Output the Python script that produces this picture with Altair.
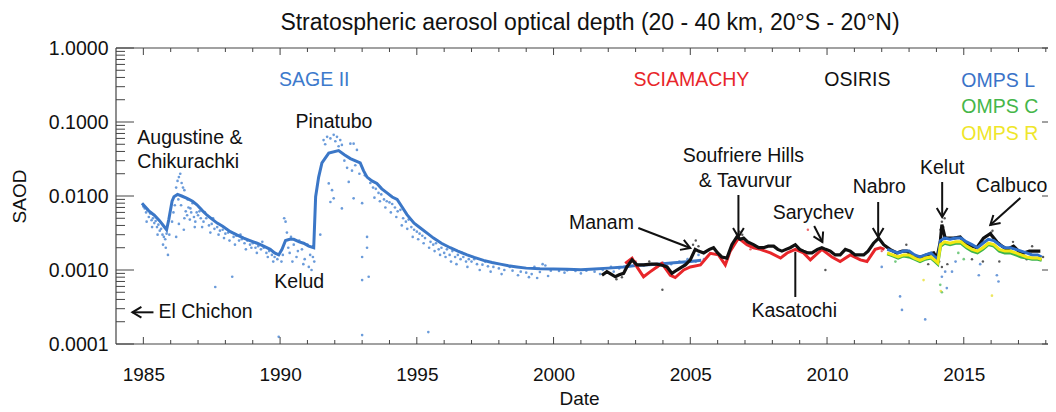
import altair as alt
import pandas as pd

# ---------------- data ----------------
chart_title = "Stratospheric aerosol optical depth (20 - 40 km, 20°S - 20°N)"

sage_line = [(1984.95,0.0080),(1985.2,0.0063),(1985.4,0.0055),(1985.6,0.0046),(1985.75,0.0039),
    (1985.85,0.0035),(1985.93,0.0048),(1986.05,0.0085),(1986.12,0.0098),(1986.25,0.0105),
    (1986.4,0.0100),(1986.6,0.0093),(1986.8,0.0085),(1986.96,0.0076),(1987.15,0.0064),
    (1987.33,0.0055),(1987.5,0.0049),(1987.7,0.0043),(1987.9,0.0039),(1988.18,0.0033),
    (1988.4,0.0030),(1988.67,0.0027),(1988.9,0.0025),(1989.16,0.0023),(1989.4,0.0021),
    (1989.64,0.0019),(1989.8,0.0017),(1989.95,0.0016),(1990.07,0.0019),(1990.2,0.0025),
    (1990.35,0.0026),(1990.5,0.0026),(1990.7,0.0024),(1990.86,0.0023),(1991.05,0.0021),
    (1991.23,0.0020),(1991.3,0.0098),(1991.41,0.018),(1991.53,0.028),(1991.78,0.038),
    (1992.14,0.041),(1992.35,0.036),(1992.57,0.032),(1992.93,0.028),(1993.05,0.022),
    (1993.18,0.018),(1993.36,0.016),(1993.54,0.0148),(1993.72,0.0125),(1993.91,0.011),
    (1994.1,0.0097),(1994.28,0.0090),(1994.45,0.0072),(1994.64,0.0056),(1994.9,0.0043),
    (1995.13,0.0037),(1995.4,0.0031),(1995.61,0.0027),(1995.9,0.0023),(1996.22,0.0020),
    (1996.5,0.0018),(1996.84,0.0016),(1997.1,0.00148),(1997.44,0.00135),(1997.75,0.00126),
    (1998.05,0.0012),(1998.35,0.00114),(1998.66,0.0011),(1999.0,0.00106),(1999.5,0.00104),
    (2000.0,0.00103),(2000.5,0.00102),(2001.0,0.00101),(2001.5,0.00103),(2002.0,0.00106),
    (2002.55,0.0011),(2003.0,0.00115),(2003.78,0.0012),(2004.4,0.00125),(2005.0,0.0013),
    (2005.4,0.00135)]

sage_dots = [(1985.0,0.0072),(1985.05,0.0068),(1985.1,0.0060),(1985.15,0.0065),(1985.2,0.0052),
    (1985.25,0.0058),(1985.3,0.0047),(1985.35,0.0050),(1985.4,0.0043),(1985.45,0.0046),
    (1985.5,0.0038),(1985.55,0.0041),(1985.6,0.0034),(1985.65,0.0036),(1985.7,0.0030),
    (1985.75,0.0028),(1985.8,0.0026),(1985.85,0.0031),(1985.9,0.0016),(1985.95,0.0030),
    (1986.1,0.0060),(1986.15,0.0075),(1986.2,0.013),(1986.25,0.016),(1986.3,0.018),
    (1986.35,0.020),(1986.4,0.015),(1986.45,0.013),(1986.5,0.012),(1986.55,0.0062),
    (1986.6,0.0055),(1986.65,0.0070),(1986.7,0.0048),(1986.75,0.0060),(1986.8,0.0080),
    (1986.85,0.0052),(1986.9,0.0045),(1986.95,0.0060),(1986.3,0.0042),(1986.5,0.0050),
    (1986.2,0.0028),(1987.05,0.0062),(1987.1,0.0050),(1987.2,0.0045),(1987.3,0.0050),
    (1987.4,0.0040),(1987.5,0.0042),(1987.6,0.0036),(1987.63,0.00059),(1987.7,0.0038),
    (1987.8,0.0034),(1987.9,0.0035),(1988.0,0.0031),(1988.1,0.0032),(1988.25,0.00081),
    (1988.3,0.0028),(1988.4,0.0029),(1988.5,0.0025),(1988.6,0.0026),(1988.7,0.0023),
    (1988.8,0.0025),(1988.9,0.0022),(1989.0,0.0023),(1989.1,0.0020),(1989.2,0.0021),
    (1989.3,0.0019),(1989.4,0.0020),(1989.5,0.0017),(1989.6,0.0018),(1989.7,0.0016),
    (1989.8,0.0015),(1989.9,0.0014),(1989.95,0.000125),(1990.05,0.0013),(1990.1,0.0016),
    (1990.15,0.0050),(1990.2,0.0045),(1990.25,0.0032),(1990.3,0.0020),(1990.35,0.0017),
    (1990.4,0.0028),(1990.5,0.0022),(1990.6,0.0015),(1990.7,0.0025),(1990.8,0.0019),
    (1990.9,0.0014),(1991.0,0.0022),(1991.1,0.0016),(1991.15,0.0010),(1991.2,0.0015),
    (1991.25,0.0013),(1991.47,0.0030),(1991.59,0.057),(1991.65,0.050),(1991.72,0.063),
    (1991.78,0.0148),(1991.84,0.060),(1991.84,0.0083),(1991.9,0.012),(1991.96,0.067),
    (1991.96,0.0093),(1992.02,0.055),(1992.08,0.063),(1992.14,0.047),(1992.2,0.057),
    (1992.26,0.049),(1992.26,0.0068),(1992.35,0.030),(1992.45,0.024),(1992.51,0.0155),
    (1992.57,0.051),(1992.63,0.022),(1992.69,0.051),(1992.69,0.0093),(1992.75,0.026),
    (1992.81,0.042),(1992.9,0.020),(1993.0,0.008),(1993.0,0.0015),(1993.0,0.00073),
    (1993.0,0.000132),(1993.1,0.019),(1993.18,0.0028),(1993.18,0.0020),(1993.24,0.00081),
    (1993.3,0.015),(1993.4,0.013),(1993.5,0.0125),(1993.6,0.011),(1993.7,0.0105),
    (1993.8,0.0090),(1993.9,0.0085),(1994.0,0.0082),(1994.1,0.0078),(1994.2,0.0070),
    (1994.3,0.0062),(1994.4,0.0065),(1994.5,0.0050),(1994.6,0.0045),(1994.7,0.0048),
    (1994.8,0.0038),(1994.9,0.0035),(1995.0,0.0033),(1995.1,0.0031),(1995.2,0.0029),
    (1995.3,0.0027),(1995.42,0.000145),(1995.5,0.0024),(1995.6,0.0022),(1995.7,0.0023),
    (1995.8,0.0019),(1995.9,0.0020),(1996.0,0.0017),(1996.1,0.0019),(1996.2,0.0016),
    (1996.3,0.0018),(1996.4,0.0015),(1996.5,0.0016),(1996.6,0.0014),(1996.7,0.0015),
    (1996.8,0.0013),(1996.9,0.0014),(1997.0,0.0013),(1997.2,0.0012),(1997.4,0.00118),
    (1997.6,0.00112),(1997.8,0.0011),(1998.0,0.00105),(1998.2,0.0010),(1998.5,0.00098),
    (1998.8,0.00095),(1999.0,0.00092),(1999.2,0.00088),(1999.3,0.0011),(1999.5,0.00094),
    (1999.7,0.00115),(1999.9,0.00098),(2000.2,0.00097),(2000.5,0.00099),(2000.8,0.00097),
    (2001.2,0.00098),(2001.5,0.00095),(2001.8,0.0010),(2002.1,0.0011),(2002.4,0.00105),
    (2002.7,0.0011),(2003.0,0.0012),(2003.3,0.00115),(2003.6,0.0012),(2004.0,0.00125),
    (2004.3,0.0012),(2004.6,0.0013),(2004.9,0.0014),(2005.2,0.0013),(2005.5,0.0014),
    (1985.12,0.0045),(1985.32,0.0038),(1985.52,0.0030),(1985.72,0.0022),(1985.82,0.0020),
    (1986.05,0.0045),(1986.28,0.0090),(1986.38,0.0075),(1986.48,0.0035),(1986.62,0.0090),
    (1986.72,0.0068),(1986.88,0.0038),(1987.0,0.0055),(1987.15,0.0038),(1987.25,0.0060),
    (1987.45,0.0032),(1987.55,0.0050),(1987.75,0.0030),(1987.95,0.0027),(1988.15,0.0025),
    (1988.35,0.0022),(1988.55,0.0030),(1988.75,0.0019),(1988.95,0.0020),(1989.15,0.0017),
    (1989.35,0.0024),(1989.55,0.0015),(1989.75,0.0013),(1990.45,0.0013),(1990.65,0.0018),
    (1990.85,0.0012),(1991.05,0.0011),(1993.45,0.0095),(1993.65,0.0085),(1993.85,0.0070),
    (1994.05,0.0060),(1994.25,0.0052),(1994.45,0.0040),(1994.65,0.0036),(1994.85,0.0028),
    (1995.05,0.0026),(1995.25,0.0023),(1995.45,0.0020),(1995.65,0.0018),(1995.85,0.0016),
    (1996.05,0.0015),(1996.25,0.0013),(1996.45,0.0012),(1996.65,0.0017),(1996.85,0.0011),
    (1997.1,0.0014),(1997.3,0.0010),(1997.5,0.0013),(1997.7,0.00095),(1998.1,0.00088),
    (1998.4,0.0011),(1998.7,0.00085),(1999.1,0.0008),(1999.4,0.00078),(1999.6,0.0012),
    (1999.8,0.00083),(2000.4,0.00092),(2001.0,0.0009),(2001.7,0.00088),(2002.2,0.00095),
    (2003.8,0.0011),(2004.8,0.0012),(2005.3,0.0016)]

sciamachy_line = [(2002.62,0.00123),(2002.87,0.00144),(2003.05,0.0011),(2003.29,0.00081),
    (2003.54,0.00095),(2003.78,0.0011),(2003.96,0.00123),(2004.27,0.00085),(2004.45,0.00079),
    (2004.76,0.0010),(2005.0,0.0011),(2005.37,0.00117),(2005.73,0.00168),(2006.03,0.0016),
    (2006.28,0.00117),(2006.46,0.0018),(2006.76,0.0027),(2007.07,0.0022),(2007.31,0.0020),
    (2007.56,0.0019),(2007.93,0.0017),(2008.3,0.00145),(2008.54,0.0017),(2008.84,0.0019),
    (2009.14,0.0017),(2009.39,0.00137),(2009.81,0.0019),(2010.18,0.0015),(2010.48,0.0013),
    (2010.85,0.0016),(2011.22,0.00137),(2011.46,0.0013),(2011.76,0.0019),(2011.95,0.0020),
    (2012.1,0.0019)]
sciamachy_dots = [(2009.3,0.0035),(2006.8,0.0030),(2003.0,0.0013),(2012.0,0.0018),(2007.2,0.0019)]

osiris_line = [(2001.77,0.00085),(2001.95,0.00095),(2002.1,0.00088),(2002.26,0.00081),
    (2002.4,0.00086),(2002.56,0.0009),(2002.68,0.0011),(2002.87,0.00137),(2003.05,0.00117),
    (2003.3,0.00117),(2003.55,0.0012),(2003.78,0.0012),(2004.0,0.00115),(2004.15,0.0011),
    (2004.33,0.0009),(2004.51,0.0010),(2004.7,0.0011),(2004.82,0.00117),(2005.0,0.00137),
    (2005.18,0.0019),(2005.3,0.0018),(2005.49,0.0017),(2005.7,0.0019),(2005.85,0.0020),
    (2006.0,0.0017),(2006.15,0.0015),(2006.34,0.00145),(2006.52,0.0022),(2006.7,0.0028),
    (2006.83,0.0026),(2006.95,0.0027),(2007.1,0.0024),(2007.31,0.0022),(2007.5,0.0020),
    (2007.68,0.0020),(2007.85,0.0021),(2008.05,0.0021),(2008.2,0.0019),(2008.35,0.0018),
    (2008.5,0.0019),(2008.65,0.0020),(2008.84,0.0022),(2009.0,0.0019),(2009.14,0.0018),
    (2009.3,0.0017),(2009.45,0.0017),(2009.65,0.0019),(2009.81,0.0020),(2009.95,0.0019),
    (2010.12,0.0018),(2010.3,0.0016),(2010.48,0.0016),(2010.67,0.0019),(2010.85,0.0018),
    (2011.03,0.0016),(2011.2,0.0016),(2011.34,0.0016),(2011.5,0.0018),(2011.7,0.0023),
    (2011.89,0.0027),(2012.07,0.0022),(2012.3,0.0019),(2012.55,0.0017),(2012.75,0.0018),
    (2012.92,0.0018),(2013.1,0.0016),(2013.28,0.0015),(2013.45,0.0015),(2013.65,0.0016),
    (2013.9,0.0017),(2014.02,0.00145),(2014.14,0.0024),(2014.2,0.0041),(2014.32,0.0027),
    (2014.5,0.0027),(2014.63,0.0027),(2014.87,0.0028),(2015.12,0.0022),(2015.3,0.0021),
    (2015.48,0.0020),(2015.72,0.0027),(2015.97,0.0031),(2016.21,0.0024),(2016.4,0.0021),
    (2016.58,0.0019),(2016.82,0.0021),(2017.0,0.0018),(2017.19,0.0017),(2017.4,0.0018),
    (2017.55,0.0018),(2017.8,0.0018)]
osiris_dots = [(2002.3,0.00075),(2002.5,0.0008),(2003.5,0.0013),(2003.98,0.00054),(2005.1,0.0022),
    (2005.2,0.0025),(2005.3,0.0021),(2006.7,0.0031),(2006.8,0.0033),(2006.9,0.0030),
    (2009.94,0.0010),(2011.9,0.0030),(2014.15,0.0035),(2014.2,0.0045),(2014.25,0.0038),
    (2014.3,0.0050),(2014.1,0.0013),(2014.2,0.0011),(2013.7,0.0012),(2015.3,0.0014),
    (2015.7,0.0013),(2016.0,0.0032),(2016.05,0.0034),(2016.8,0.0024),(2017.3,0.0014),
    (2017.5,0.0021),(2017.9,0.0015),(2014.4,0.0012),(2012.9,0.0022),(2016.3,0.0013)]

omps_years = [2012.2,2012.4,2012.6,2012.8,2013.0,2013.2,2013.4,2013.6,2013.8,2013.95,2014.05,
    2014.15,2014.3,2014.5,2014.7,2014.9,2015.1,2015.3,2015.5,2015.7,2015.9,2016.1,2016.3,
    2016.5,2016.7,2016.9,2017.1,2017.3,2017.5,2017.7,2017.85]
omps_l = [0.0019,0.0018,0.0017,0.0018,0.0018,0.0016,0.0015,0.0016,0.0017,0.0015,0.0014,0.0025,
    0.0027,0.0026,0.0027,0.0027,0.0024,0.0022,0.0020,0.0023,0.0026,0.0025,0.0022,0.0020,0.0020,
    0.0019,0.0018,0.0017,0.0016,0.0016,0.0015]
omps_r = [0.0017,0.0016,0.0015,0.0016,0.0016,0.00145,0.00135,0.00145,0.0015,0.00135,0.00125,
    0.0022,0.0024,0.0023,0.0024,0.0024,0.0021,0.0019,0.0018,0.0020,0.0023,0.0022,0.0019,0.0018,
    0.0018,0.0017,0.0016,0.0015,0.00145,0.00145,0.0014]
omps_c = [0.00165,0.00155,0.00145,0.00155,0.0015,0.0014,0.0013,0.0014,0.00145,0.0013,0.0012,
    0.0021,0.0023,0.0022,0.0023,0.0023,0.0020,0.0018,0.0017,0.0019,0.0022,0.0021,0.0018,0.0017,
    0.0017,0.0016,0.0015,0.00145,0.0014,0.0014,0.00135]
omps_l_dots = [(2012.0,0.0011),(2012.67,0.00044),(2012.74,0.000289),(2013.59,0.000215),
    (2014.2,0.00081),(2014.32,0.00095),(2014.57,0.00095),(2014.38,0.00057),(2015.55,0.00085),
    (2016.21,0.00085),(2016.27,0.00070),(2015.6,0.0012),(2014.7,0.0013)]
omps_c_dots = [(2014.14,0.00063),(2014.2,0.0005),(2015.0,0.0014),(2014.8,0.0017),(2012.5,0.0013)]
omps_r_dots = [(2014.16,0.00052),(2013.53,0.00073),(2016.03,0.00045)]

# annotations: label, year, SAOD, colour
labels_center = [("SAGE II",1991.25,0.369,"#3d7acc"),("SCIAMACHY",2005.04,0.369,"#e8262a"),
    ("OSIRIS",2011.11,0.369,"#111111"),("Pinatubo",1991.97,0.100,"#111111"),
    ("Kelud",1990.70,0.000689,"#111111"),("Manam",2001.75,0.00432,"#111111"),
    ("Soufriere Hills",2006.94,0.0347,"#111111"),("& Tavurvur",2007.01,0.0160,"#111111"),
    ("Sarychev",2009.50,0.00589,"#111111"),("Nabro",2011.91,0.01324,"#111111"),
    ("Kelut",2014.21,0.0239,"#111111"),("Calbuco",2016.75,0.01365,"#111111"),
    ("Kasatochi",2008.80,0.000279,"#111111")]
labels_left = [("Augustine &",1984.78,0.0608,"#111111"),("Chikurachki",1984.78,0.0288,"#111111"),
    ("El Chichon",1985.55,0.000268,"#111111"),("OMPS L",2014.91,0.358,"#3a73c8"),
    ("OMPS C",2014.91,0.1595,"#45b649"),("OMPS R",2014.91,0.0688,"#efe62a")]

# arrows: name, start year, start SAOD, tip year, tip SAOD
arrows = [("Manam",2003.10,0.00370,2005.0,0.00198),("Soufriere",2006.76,0.01032,2006.76,0.00279),
    ("Sarychev",2009.53,0.00393,2009.83,0.00239),("Nabro",2011.87,0.0083,2011.87,0.00279),
    ("Kelut",2014.21,0.01545,2014.21,0.0052),("Calbuco",2017.07,0.0094,2015.97,0.00406),
    ("El Chichon",1985.37,0.000268,1984.60,0.000268)]
arrow_angle = [291, 0, 333, 0, 0, 48, 90]   # head direction (style)
pointer_lines = [("Kasatochi",2008.84,0.000432,2008.84,0.00175)]

x_major = [1985, 1990, 1995, 2000, 2005, 2010, 2015]
x_minor = [y for y in range(1985, 2019) if y not in x_major]
y_major = [0.0001, 0.001, 0.01, 0.1, 1.0]
y_minor = [m * 10.0 ** k for k in range(-4, 0) for m in range(2, 10)]

# ---------------- chart ----------------
FONT = "Liberation Sans"
W, H = 932, 296
xs = alt.Scale(domain=[1984, 2018.08], nice=False, zero=False)
ys = alt.Scale(type="log", domain=[0.0001, 1.0], nice=False)

x_axis = alt.Axis(orient="bottom", values=x_major, format="d", ticks=False, domain=False, grid=False,
                  labelPadding=21, labelFontSize=19, labelFont=FONT, labelColor="#111",
                  labelFlush=False, labelOverlap=False,
                  title="Date", titleFont=FONT, titleFontSize=19, titleFontWeight="normal",
                  titleColor="#111", titleX=463, titleY=60, titleBaseline="alphabetic",
                  titleAlign="center")
y_axis = alt.Axis(orient="left", values=y_major, format=".4f", ticks=False, domain=False, grid=False,
                  labelPadding=8, labelFontSize=19.5, labelFont=FONT, labelColor="#111",
                  labelOverlap=False,
                  title="SAOD", titleFont=FONT, titleFontSize=19, titleFontWeight="normal",
                  titleColor="#111", titleAngle=270, titleX=-97, titleY=148,
                  titleAlign="center", titleBaseline="middle")


def pairs(p):
    return pd.DataFrame(p, columns=["year", "saod"])


def X(field="year"):
    return alt.X(field + ":Q", scale=xs, axis=x_axis)


def Y(field="saod"):
    return alt.Y(field + ":Q", scale=ys, axis=y_axis)


layers = []
one = pd.DataFrame({"t": [chart_title]})
FR = "#444"

# data
SAGE = "#3b77c7"
layers.append(alt.Chart(pairs(sage_dots)).mark_circle(color="#5089d3", size=7, opacity=0.85).encode(
    x=X(), y=Y()))
layers.append(alt.Chart(pairs(sage_line)).mark_line(color=SAGE, strokeWidth=3).encode(x=X(), y=Y()))
layers.append(alt.Chart(pairs(osiris_dots)).mark_circle(color="#111", size=6).encode(x=X(), y=Y()))
layers.append(alt.Chart(pairs(sciamachy_dots)).mark_circle(color="#e8262a", size=6).encode(x=X(), y=Y()))
layers.append(alt.Chart(pairs(sciamachy_line)).mark_line(color="#e8262a", strokeWidth=3).encode(x=X(), y=Y()))
layers.append(alt.Chart(pairs(osiris_line)).mark_line(color="#111111", strokeWidth=3.2).encode(x=X(), y=Y()))
for vals, col in ((omps_l, "#2f6fc9"), (omps_c, "#3cb44b"), (omps_r, "#f2e813")):
    df = pd.DataFrame({"year": omps_years, "saod": vals})
    layers.append(alt.Chart(df).mark_line(color=col, strokeWidth=3).encode(x=X(), y=Y()))
for dots, col in ((omps_l_dots, "#2f6fc9"), (omps_c_dots, "#3cb44b"), (omps_r_dots, "#e6dc1a")):
    layers.append(alt.Chart(pairs(dots)).mark_circle(color=col, size=7).encode(x=X(), y=Y()))

# frame (open on the right: the reference is cropped there)
layers.append(alt.Chart(one).mark_rule(color=FR, strokeWidth=1.2).encode(
    x=alt.value(0), x2=alt.value(W), y=alt.value(0)))
layers.append(alt.Chart(one).mark_rule(color=FR, strokeWidth=1.2).encode(
    x=alt.value(0), x2=alt.value(W), y=alt.value(H)))
layers.append(alt.Chart(one).mark_rule(color=FR, strokeWidth=1.2).encode(
    x=alt.value(0), y=alt.value(0), y2=alt.value(H)))
# ticks
xmaj = pd.DataFrame({"year": x_major})
xmin = pd.DataFrame({"year": x_minor})
ymaj = pd.DataFrame({"saod": y_major})
ymin = pd.DataFrame({"saod": y_minor})
for df, ln in ((xmaj, 7), (xmin, 4)):
    layers.append(alt.Chart(df).mark_rule(color=FR, strokeWidth=1).encode(
        x=X(), y=alt.value(H), y2=alt.value(H - ln)))
    layers.append(alt.Chart(df).mark_rule(color=FR, strokeWidth=1).encode(
        x=X(), y=alt.value(0), y2=alt.value(ln)))
for df, ln in ((ymaj, 18), (ymin, 9)):
    layers.append(alt.Chart(df).mark_rule(color=FR, strokeWidth=1).encode(
        y=Y(), x=alt.value(0), x2=alt.value(ln)))
layers.append(alt.Chart(ymaj).mark_rule(color=FR, strokeWidth=1).encode(
    y=Y(), x=alt.value(W - 6), x2=alt.value(W)))

# annotation arrows
adf = pd.DataFrame(arrows, columns=["name", "year", "saod", "year2", "saod2"])
adf["angle"] = arrow_angle
layers.append(alt.Chart(adf).mark_rule(color="#111", strokeWidth=2).encode(
    x=X(), y=Y(), x2="year2:Q", y2="saod2:Q"))
layers.append(alt.Chart(adf).mark_point(shape="M-0.6,-1L0,0L0.6,-1", filled=False, color="#111",
                                        strokeWidth=2, size=324, opacity=1).encode(
    x=X("year2"), y=Y("saod2"), angle=alt.Angle("angle:Q", scale=None)))
pdf = pd.DataFrame(pointer_lines, columns=["name", "year", "saod", "year2", "saod2"])
layers.append(alt.Chart(pdf).mark_rule(color="#111", strokeWidth=2).encode(
    x=X(), y=Y(), x2="year2:Q", y2="saod2:Q"))

# annotation text
cdf = pd.DataFrame(labels_center, columns=["label", "year", "saod", "color"])
ldf = pd.DataFrame(labels_left, columns=["label", "year", "saod", "color"])
for df, al in ((cdf, "center"), (ldf, "left")):
    layers.append(alt.Chart(df).mark_text(align=al, baseline="middle", font=FONT, fontSize=19.5).encode(
        x=X(), y=Y(), text="label:N", color=alt.Color("color:N", scale=None)))

# chart title (as text above the plot)
layers.append(alt.Chart(one).mark_text(align="center", baseline="alphabetic", font=FONT,
                                       fontSize=23, color="#111").encode(
    x=alt.value(474), y=alt.value(-18), text="t:N"))

chart = alt.layer(*layers).properties(
    width=W, height=H,
    autosize=alt.AutoSizeParams(type="none"),
    padding={"left": 108, "top": 40, "right": 0, "bottom": 66},
    background="white",
).configure_view(strokeWidth=0)

chart.save("out.html", embed_options={"renderer": "svg", "actions": False})
